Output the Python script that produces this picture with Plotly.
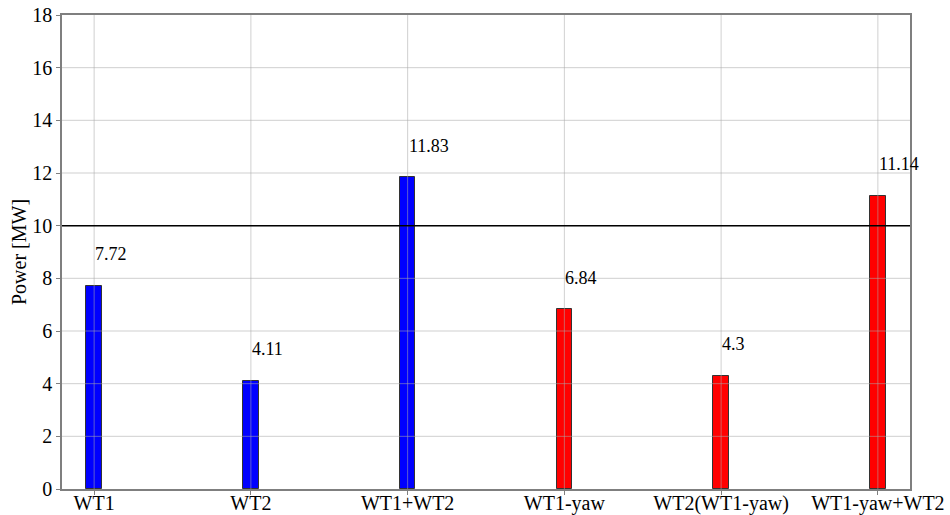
import plotly.graph_objects as go

# Power output per case
categories = ["WT1", "WT2", "WT1+WT2", "WT1-yaw", "WT2(WT1-yaw)", "WT1-yaw+WT2"]
power_mw = [7.72, 4.11, 11.83, 6.84, 4.3, 11.14]
bar_colors = ["#0000ff", "#0000ff", "#0000ff", "#ff0000", "#ff0000", "#ff0000"]
y_ticks = [0, 2, 4, 6, 8, 10, 12, 14, 16, 18]
reference_level = 10

positions = list(range(len(categories)))
font_family = "Liberation Serif"
grid_color = "rgba(170,170,170,0.55)"

fig = go.Figure()
fig.add_trace(go.Bar(
    x=positions,
    y=power_mw,
    width=0.1,
    marker=dict(color=bar_colors, line=dict(color="#333333", width=1)),
    showlegend=False,
    hoverinfo="x+y",
))

# value labels, left-aligned at the bar centre, one unit above the bar top
for xi, v in zip(positions, power_mw):
    fig.add_annotation(
        x=xi, y=v + 1, text=f"{v:g}", showarrow=False,
        xanchor="left", yanchor="bottom", xshift=-1, yshift=-7,
        font=dict(family=font_family, size=18, color="#000000"),
    )

# grid drawn on top of the bars
for xi in positions:
    fig.add_shape(type="line", xref="x", x0=xi, x1=xi, yref="paper", y0=0, y1=1,
                  line=dict(color=grid_color, width=1), layer="above")
for yv in y_ticks[1:-1]:
    fig.add_shape(type="line", xref="paper", x0=0, x1=1, yref="y", y0=yv, y1=yv,
                  line=dict(color=grid_color, width=1), layer="above")

# reference line at 10 MW
fig.add_shape(
    type="line", xref="paper", x0=0, x1=1, yref="y",
    y0=reference_level, y1=reference_level,
    line=dict(color="#000000", width=1.5), layer="above",
)

fig.update_layout(
    width=950, height=515,
    margin=dict(l=62, r=40, t=15, b=26, autoexpand=False),
    plot_bgcolor="#ffffff", paper_bgcolor="#ffffff",
    font=dict(family=font_family, size=20, color="#000000"),
    bargap=0,
)
fig.update_xaxes(
    range=[-0.205, 5.205], automargin=False,
    tickmode="array", tickvals=positions, ticktext=categories,
    showgrid=False,
    showline=True, linecolor="#7f7f7f", linewidth=1.5, mirror=True,
    ticks="outside", ticklen=4, tickcolor="#7f7f7f", ticklabelstandoff=-9,
    tickfont=dict(family=font_family, size=20), layer="above traces", zeroline=False,
)
fig.update_yaxes(
    range=[0, 18], automargin=False,
    tickmode="array", tickvals=y_ticks,
    showgrid=False,
    showline=True, linecolor="#7f7f7f", linewidth=1.5, mirror=True,
    ticks="outside", ticklen=4, tickcolor="#7f7f7f",
    tickfont=dict(family=font_family, size=20), layer="above traces", zeroline=False,
    title=dict(text="Power [MW]", font=dict(family=font_family, size=20), standoff=0),
)

fig.write_html("out.html")
